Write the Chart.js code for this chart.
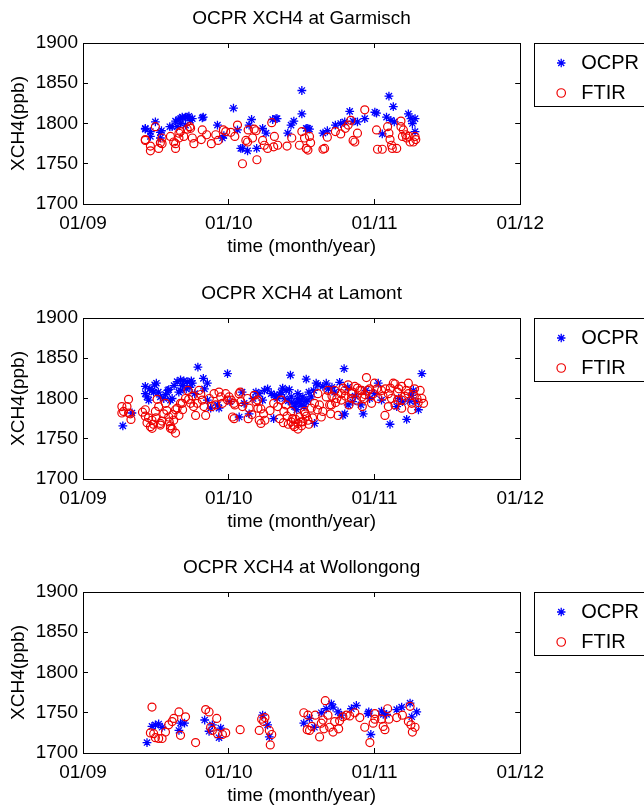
<!DOCTYPE html>
<html><head><meta charset="utf-8">
<script src="https://cdn.jsdelivr.net/npm/chart.js@4.4.1/dist/chart.umd.min.js"></script>
<style>
html,body{margin:0;padding:0;background:#fff;width:644px;height:809px;overflow:hidden;position:relative}
.w{position:absolute;left:0;width:649px;height:260px}
canvas{display:block}
</style></head><body>
<div class="w" style="top:0"><canvas id="c1" width="649" height="260"></canvas></div>
<div class="w" style="top:275px"><canvas id="c2" width="649" height="260"></canvas></div>
<div class="w" style="top:549px"><canvas id="c3" width="649" height="260"></canvas></div>
<script>
// x values: months since January 2009; y values: XCH4 in ppb
const xTickLabels = ['01/09','01/10','01/11','01/12'];
const seriesNames = ['OCPR','FTIR'];
const siteTitles = ['OCPR XCH4 at Garmisch','OCPR XCH4 at Lamont','OCPR XCH4 at Wollongong'];

const garmischOCPR = [[5.13,1793],[5.13,1794],[5.55,1790],[5.55,1784],[5.96,1802],[6.37,1782],[6.37,1789],[6.46,1791],[7.15,1796],[7.34,1796],[7.62,1803],[7.75,1796],[7.9,1805],[8.03,1800],[8.03,1806],[8.17,1808],[8.44,1808],[8.44,1798],[8.58,1808],[8.72,1809],[8.86,1804],[9.0,1806],[9.82,1807],[9.9,1808],[11.07,1798],[11.48,1782],[11.6,1785],[12.39,1819],[12.72,1792],[12.99,1769],[13.13,1769],[13.55,1766],[13.68,1798],[13.88,1805],[14.3,1769],[14.79,1794],[15.07,1788],[15.62,1805],[15.89,1806],[15.98,1806],[16.86,1788],[17.13,1798],[17.36,1803],[18.02,1841],[18.02,1812],[18.38,1794],[18.51,1794],[18.65,1793],[19.76,1788],[20.12,1791],[20.78,1798],[21.22,1800],[21.55,1802],[21.96,1815],[22.24,1803],[22.6,1802],[23.2,1806],[24.03,1814],[24.17,1813],[24.64,1787],[24.99,1808],[25.19,1834],[25.35,1804],[25.55,1821],[25.63,1802],[26.79,1812],[27.0,1806],[27.12,1800],[27.34,1806],[27.34,1790]];
const garmischFTIR = [[5.13,1780],[5.13,1779],[5.55,1772],[5.55,1766],[5.96,1796],[6.23,1769],[6.37,1776],[6.51,1782],[6.51,1775],[7.2,1784],[7.47,1777],[7.62,1775],[7.62,1769],[7.9,1782],[7.9,1788],[8.03,1790],[8.3,1784],[8.58,1793],[8.8,1796],[8.86,1794],[9.0,1782],[9.13,1775],[9.74,1780],[9.82,1792],[10.18,1786],[10.57,1775],[10.93,1786],[11.12,1779],[11.56,1792],[11.75,1790],[12.17,1789],[12.5,1784],[12.72,1798],[13.13,1750],[13.41,1779],[13.55,1777],[13.6,1792],[13.96,1782],[14.1,1793],[14.25,1791],[14.32,1755],[14.79,1779],[14.93,1773],[15.2,1769],[15.54,1801],[15.7,1771],[15.76,1784],[16.03,1773],[16.8,1772],[17.19,1782],[17.82,1773],[18.02,1790],[18.24,1782],[18.38,1769],[18.52,1767],[18.65,1784],[18.74,1776],[19.76,1768],[19.89,1769],[20.12,1783],[20.78,1790],[21.22,1787],[21.6,1794],[21.83,1798],[22.05,1804],[22.24,1779],[22.38,1777],[22.6,1788],[23.2,1817],[24.17,1792],[24.25,1768],[24.64,1768],[25.08,1796],[25.19,1788],[25.28,1780],[25.41,1773],[25.47,1769],[25.83,1769],[26.18,1803],[26.18,1796],[26.38,1792],[26.3,1784],[26.57,1786],[26.65,1782],[26.85,1784],[26.93,1777],[27.2,1777],[27.34,1784],[27.4,1780]];

const lamontOCPR = [[3.28,1766],[4.03,1782],[5.13,1815],[5.13,1806],[5.27,1802],[5.41,1798],[5.5,1812],[5.68,1810],[5.82,1808],[5.9,1817],[6.04,1819],[6.2,1808],[6.37,1802],[6.65,1800],[6.8,1805],[6.98,1810],[7.06,1811],[7.2,1798],[7.34,1800],[7.5,1816],[7.75,1821],[7.89,1808],[8.03,1823],[8.03,1810],[8.2,1816],[8.3,1822],[8.5,1812],[8.58,1821],[8.8,1814],[8.92,1822],[9.0,1819],[9.2,1806],[9.46,1839],[9.91,1825],[10.0,1812],[10.24,1819],[10.24,1798],[10.51,1788],[11.07,1792],[11.2,1788],[11.9,1831],[12.1,1796],[12.86,1777],[13.1,1808],[13.27,1794],[13.68,1781],[14.0,1800],[14.24,1808],[14.5,1806],[14.79,1798],[14.93,1810],[15.2,1812],[15.5,1806],[15.7,1775],[15.76,1804],[15.89,1802],[16.0,1800],[16.2,1805],[16.31,1808],[16.44,1813],[16.6,1800],[16.72,1810],[16.9,1797],[16.99,1811],[17.08,1829],[17.14,1802],[17.2,1795],[17.4,1790],[17.55,1794],[17.6,1786],[17.69,1806],[17.69,1800],[17.8,1796],[17.96,1798],[17.96,1792],[18.1,1802],[18.2,1790],[18.37,1796],[18.38,1824],[18.52,1798],[18.6,1808],[18.79,1802],[19.0,1810],[19.06,1769],[19.2,1819],[19.34,1817],[19.75,1815],[20.03,1819],[20.2,1812],[20.5,1814],[20.72,1808],[21.13,1820],[21.4,1779],[21.5,1837],[21.55,1781],[21.8,1814],[21.83,1792],[22.2,1796],[22.4,1803],[22.88,1792],[23.07,1781],[23.3,1810],[23.6,1800],[24.0,1806],[24.31,1819],[24.58,1798],[25.28,1768],[25.83,1790],[26.0,1800],[26.3,1796],[26.65,1774],[26.9,1797],[27.07,1804],[27.2,1810],[27.4,1796],[27.62,1786],[27.9,1831]];
const lamontFTIR = [[3.2,1790],[3.2,1782],[3.34,1784],[3.62,1790],[3.75,1799],[3.75,1782],[3.9,1781],[3.95,1774],[4.9,1783],[5.13,1786],[5.13,1778],[5.27,1770],[5.4,1776],[5.55,1765],[5.68,1773],[5.69,1763],[5.8,1768],[5.96,1784],[6.0,1776],[6.1,1799],[6.23,1790],[6.37,1769],[6.37,1767],[6.5,1772],[6.65,1781],[6.79,1794],[6.9,1785],[7.06,1777],[7.1,1771],[7.2,1766],[7.2,1763],[7.34,1762],[7.4,1780],[7.47,1773],[7.62,1757],[7.62,1786],[7.75,1788],[7.9,1779],[8.03,1794],[8.17,1794],[8.2,1786],[8.44,1800],[8.64,1810],[8.7,1799],[8.86,1794],[9.0,1803],[9.1,1790],[9.27,1779],[9.41,1794],[9.55,1810],[9.7,1805],[9.82,1798],[9.96,1790],[10.1,1779],[10.4,1800],[10.6,1790],[10.79,1806],[10.93,1792],[11.2,1808],[11.34,1802],[11.48,1794],[11.75,1806],[11.9,1798],[12.03,1802],[12.2,1798],[12.31,1777],[12.44,1794],[12.44,1775],[12.5,1792],[12.85,1806],[12.94,1808],[13.0,1796],[13.13,1790],[13.55,1800],[13.6,1775],[13.68,1788],[13.9,1780],[14.1,1804],[14.24,1796],[14.38,1798],[14.4,1788],[14.51,1773],[14.65,1787],[14.65,1769],[14.87,1781],[14.98,1773],[15.4,1785],[15.7,1794],[16.03,1790],[16.2,1775],[16.31,1798],[16.5,1770],[16.54,1784],[16.72,1792],[16.8,1778],[16.9,1768],[17.13,1784],[17.14,1771],[17.27,1775],[17.3,1767],[17.41,1765],[17.5,1774],[17.69,1769],[17.7,1762],[17.82,1777],[17.96,1771],[18.0,1766],[18.1,1771],[18.23,1784],[18.29,1781],[18.4,1778],[18.52,1773],[18.6,1768],[18.79,1788],[18.9,1776],[19.06,1794],[19.3,1786],[19.34,1806],[19.47,1792],[19.62,1777],[19.75,1784],[20.03,1802],[20.17,1810],[20.31,1792],[20.39,1781],[20.45,1792],[20.5,1803],[20.72,1810],[20.8,1795],[20.9,1800],[21.0,1779],[21.27,1806],[21.27,1798],[21.4,1813],[21.55,1810],[21.6,1803],[21.83,1817],[21.9,1792],[22.1,1806],[22.1,1800],[22.2,1808],[22.38,1815],[22.5,1798],[22.6,1813],[22.79,1810],[22.96,1810],[22.96,1802],[23.0,1790],[23.15,1800],[23.2,1805],[23.34,1826],[23.48,1810],[23.6,1812],[23.76,1794],[23.9,1806],[24.0,1819],[24.2,1812],[24.3,1800],[24.58,1810],[24.7,1803],[24.86,1779],[24.9,1812],[25.14,1806],[25.14,1790],[25.3,1813],[25.4,1800],[25.55,1819],[25.69,1792],[25.69,1818],[25.9,1808],[25.9,1798],[26.0,1812],[26.24,1815],[26.24,1798],[26.24,1788],[26.5,1803],[26.6,1810],[26.79,1819],[26.79,1806],[27.07,1794],[27.07,1786],[27.2,1805],[27.3,1812],[27.5,1800],[27.6,1795],[27.76,1810],[27.9,1800],[28.04,1794]];

const wollongongOCPR = [[5.27,1713],[5.68,1733],[5.96,1735],[6.23,1736],[6.51,1732],[7.9,1728],[8.03,1737],[8.36,1737],[10.02,1741],[10.38,1727],[10.65,1735],[11.2,1719],[11.34,1731],[14.79,1747],[15.2,1735],[15.34,1720],[18.18,1737],[18.65,1743],[19.06,1732],[19.62,1750],[20.03,1755],[20.45,1761],[20.59,1757],[21.0,1751],[21.27,1747],[22.1,1755],[22.51,1759],[23.48,1749],[23.53,1751],[23.7,1723],[24.58,1752],[24.72,1748],[25.0,1748],[25.83,1754],[26.24,1757],[26.93,1762],[27.07,1745],[27.48,1751]];
const wollongongFTIR = [[5.55,1725],[5.68,1757],[5.82,1724],[5.96,1719],[6.23,1718],[6.51,1718],[6.79,1726],[7.06,1735],[7.34,1739],[7.48,1743],[7.9,1751],[8.03,1722],[8.44,1745],[9.27,1713],[10.1,1754],[10.38,1751],[10.51,1732],[10.65,1728],[11.01,1743],[11.07,1724],[11.48,1723],[11.75,1725],[12.94,1729],[14.51,1728],[14.71,1742],[14.87,1739],[14.98,1744],[15.34,1728],[15.42,1710],[15.54,1723],[18.18,1750],[18.46,1729],[18.52,1747],[18.65,1728],[18.84,1733],[19.12,1747],[19.48,1720],[19.62,1737],[19.76,1741],[19.84,1730],[19.95,1765],[20.17,1747],[20.31,1732],[20.59,1726],[20.72,1739],[21.05,1730],[21.13,1740],[21.4,1745],[21.68,1747],[21.96,1746],[22.38,1750],[22.79,1744],[23.2,1732],[23.62,1713],[23.89,1737],[24.03,1742],[24.03,1749],[24.58,1742],[24.72,1733],[24.86,1729],[25.08,1755],[25.19,1742],[25.83,1744],[26.3,1747],[26.79,1739],[26.93,1758],[27.0,1735],[27.12,1726],[27.34,1732]];

const FONT = "'Liberation Sans', Arial, Helvetica, sans-serif";

const legendBox = {
  id: 'legendBox',
  afterDraw(chart) {
    const lg = chart.legend;
    if (!lg) return;
    const ctx = chart.ctx;
    ctx.save();
    ctx.strokeStyle = '#000';
    ctx.lineWidth = 1;
    ctx.strokeRect(Math.round(lg.left - 7) + 0.5, Math.round(lg.top) + 0.5, 200, 63);
    ctx.restore();
  }
};

function toPts(arr) { return arr.map(p => ({x: p[0], y: p[1]})); }

function makeChart(id, title, ocpr, ftir) {
  const axisFont = {family: FONT, size: 19};
  const gridOpts = {drawOnChartArea: false, tickLength: -5, color: '#000', lineWidth: 1};
  new Chart(document.getElementById(id), {
    type: 'scatter',
    data: {
      datasets: [
        {label: seriesNames[0], data: toPts(ocpr), pointStyle: 'star', pointRadius: 4.4, borderWidth: 1.3,
         borderColor: '#0000ff', backgroundColor: '#0000ff', order: 1},
        {label: seriesNames[1], data: toPts(ftir), pointStyle: 'circle', pointRadius: 4, borderWidth: 1.2,
         borderColor: '#ee0000', backgroundColor: 'rgba(0,0,0,0)', order: 0}
      ]
    },
    options: {
      responsive: false, animation: false,
      layout: {padding: 0},
      plugins: {
        title: {display: true, text: title, fullSize: false, color: '#000',
                font: {family: FONT, size: 19, weight: 'normal'}, padding: {top: 7, bottom: 13.2}},
        legend: {position: 'right', align: 'start', fullSize: false,
                 labels: {usePointStyle: true, boxWidth: 20, boxHeight: 6, padding: 10, color: '#000',
                          font: {family: FONT, size: 20},
                          sort: (a, b) => a.datasetIndex - b.datasetIndex}},
        tooltip: {enabled: false}
      },
      scales: {
        x: {type: 'linear', position: 'bottom', min: 0, max: 36,
            ticks: {stepSize: 12, padding: 13, color: '#000', font: axisFont, maxRotation: 0,
                    callback: v => xTickLabels[Math.round(v / 12)] || ''},
            grid: gridOpts, border: {color: '#000'},
            title: {display: true, text: 'time (month/year)', color: '#000', font: axisFont, padding: {top: 0, bottom: 2}},
            afterFit: s => { s.height = 56; }},
        x2: {type: 'linear', position: 'top', min: 0, max: 36,
             ticks: {display: false, stepSize: 12}, grid: gridOpts, border: {color: '#000'},
             afterFit: s => { s.height = 0; }},
        y: {type: 'linear', position: 'left', min: 1700, max: 1900,
            ticks: {stepSize: 50, padding: 10, color: '#000', font: axisFont, callback: v => String(v)},
            grid: gridOpts, border: {color: '#000'},
            title: {display: true, text: 'XCH4(ppb)', color: '#000', font: axisFont, padding: {top: 7, bottom: 0}},
            afterFit: s => { s.width = 83; }},
        y2: {type: 'linear', position: 'right', min: 1700, max: 1900,
             ticks: {display: false, stepSize: 50}, grid: gridOpts, border: {color: '#000'},
             afterFit: s => { s.width = 21; }}
      }
    },
    plugins: [legendBox]
  });
}

makeChart('c1', siteTitles[0], garmischOCPR, garmischFTIR);
makeChart('c2', siteTitles[1], lamontOCPR, lamontFTIR);
makeChart('c3', siteTitles[2], wollongongOCPR, wollongongFTIR);
</script>
</body></html>
